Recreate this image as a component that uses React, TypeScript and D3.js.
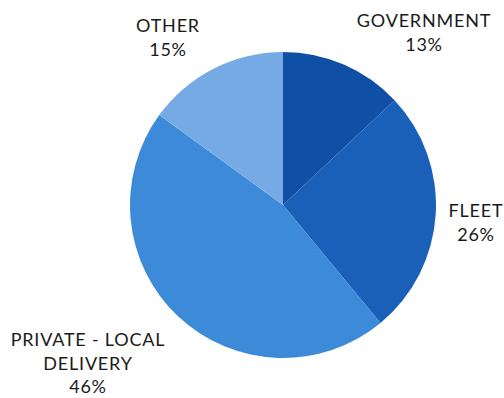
import React from "react";
import * as d3 from "d3";

const categories = ["GOVERNMENT", "FLEET", "PRIVATE - LOCAL DELIVERY", "OTHER"];
const values = [13, 26, 46, 15];
const labelLines = [["GOVERNMENT", "13%"], ["FLEET", "26%"], ["PRIVATE - LOCAL", "DELIVERY", "46%"], ["OTHER", "15%"]];
const colors = ["#0f4fa6", "#1a60b9", "#3d8ad8", "#76aae4"];

const W = 504, H = 398;
const cx = 283, cy = 205, R = 153;
const labelPos: [number, number][] = [[424, 27], [476, 217], [88, 346], [168, 32]];

export default function App() {
  const pie = d3.pie<number>().sort(null).value((d) => d);
  const arcs = pie(values);
  const arc = d3.arc<d3.PieArcDatum<number>>().innerRadius(0).outerRadius(R);
  return (
    <svg width={W} height={H} style={{ position: "absolute", left: 0, top: 0, background: "#fff" }}>
      <g transform={`translate(${cx},${cy})`}>
        {arcs.map((a, i) => (
          <path key={categories[i]} d={arc(a) || ""} fill={colors[i]} />
        ))}
      </g>
      {labelLines.map((lines, i) => (
        <text key={i} textAnchor="middle" fontFamily="Lato, 'Open Sans', sans-serif" fontSize={18} letterSpacing={0.8} fill="#1a1a1a">
          {lines.map((l, j) => (
            <tspan key={j} x={labelPos[i][0]} y={labelPos[i][1] + j * 23.5}>{l}</tspan>
          ))}
        </text>
      ))}
    </svg>
  );
}
